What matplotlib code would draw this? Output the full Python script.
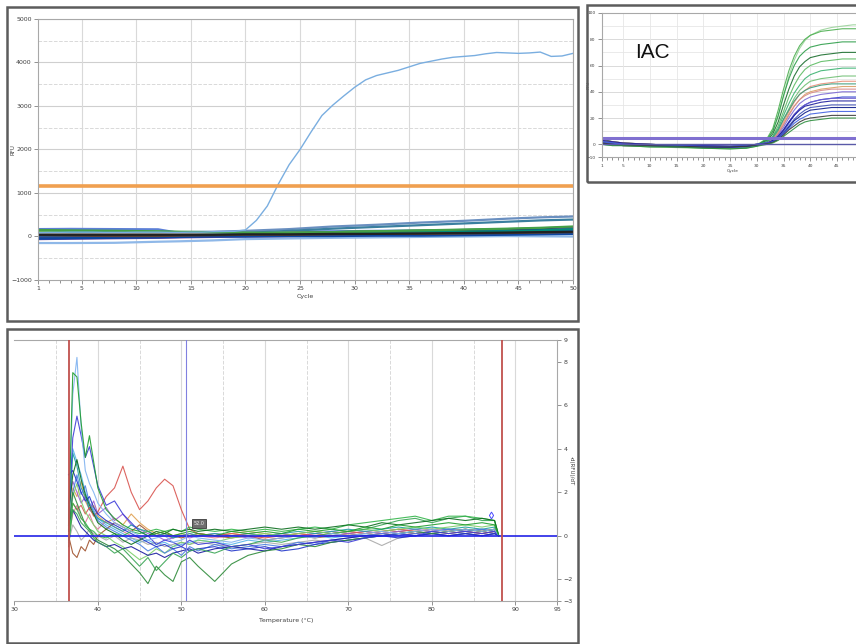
import matplotlib
matplotlib.use("Agg")
import matplotlib.pyplot as plt
from matplotlib.patches import Rectangle
from matplotlib.ticker import MultipleLocator, FixedLocator

W, H = 856, 644

# ---------------- amplification (top left) ----------------
cycles = list(range(1, 51))
positive = [90, 95, 95, 100, 100, 100, 95, 95, 95, 100, 100, 100, 95, 95, 100, 100, 110, 115, 120, 150,
            370, 700, 1200, 1650, 2000, 2400, 2780, 3020, 3230, 3430, 3600, 3700, 3760, 3820, 3900, 3980,
            4030, 4080, 4120, 4140, 4160, 4200, 4230, 4220, 4210, 4220, 4240, 4140, 4150, 4210]
base_cycles = [1, 4, 8, 12, 14, 17, 20, 24, 28, 32, 36, 40, 44, 47, 50]
baseline_curves = {
    '#5b7fd6': [170, 175, 170, 165, 80, 75, 90, 110, 120, 130, 140, 150, 160, 170, 180],
    '#8fb8e8': [-150, -150, -145, -120, -110, -90, -60, -45, -30, -20, -10, 0, 10, 5, 0],
    '#6a8fc0': [130, 125, 120, 110, 100, 110, 130, 170, 230, 270, 320, 360, 410, 440, 460],
    '#3a7f9f': [60, 60, 55, 50, 50, 60, 80, 130, 180, 220, 260, 300, 340, 370, 390],
    '#2e8b3a': [100, 110, 105, 90, 80, 70, 70, 80, 100, 120, 130, 150, 170, 190, 210],
    '#7cc242': [120, 100, 90, 80, 70, 60, 70, 90, 100, 110, 130, 140, 160, 170, 180],
    '#8b1a1a': [-30, -20, -10, 0, 10, 20, 30, 40, 50, 60, 70, 90, 110, 130, 150],
    '#1a237e': [20, 30, 40, 50, 55, 60, 70, 80, 90, 100, 110, 120, 140, 160, 200],
    '#6a3d9a': [-60, -50, -40, -30, -20, -10, 0, 10, 20, 30, 40, 60, 80, 120, 200],
    '#1565c0': [0, 0, 10, 20, 30, 40, 50, 60, 60, 70, 80, 100, 120, 130, 140],
    '#00897b': [80, 90, 100, 90, 80, 70, 60, 70, 80, 90, 100, 110, 120, 140, 170],
    '#b0b0b0': [50, 60, 70, 70, 60, 50, 40, 40, 50, 50, 60, 60, 70, 80, 90],
    '#0d47a1': [-50, -40, -30, -20, -10, 0, 0, 10, 10, 20, 20, 30, 40, 50, 60],
    '#5d4037': [30, 20, 10, 10, 20, 30, 40, 40, 50, 60, 60, 70, 80, 90, 100],
    '#43a047': [150, 140, 130, 120, 110, 100, 90, 80, 100, 120, 140, 160, 180, 200, 230],
    '#222222': [40, 40, 40, 40, 40, 40, 50, 50, 60, 60, 70, 80, 90, 100, 110],
}
threshold_amp = 1170

# ---------------- IAC (top right) ----------------
iac_cycles = [1, 3, 5, 10, 15, 20, 25, 28, 30, 32, 33, 34, 35, 36, 37, 38, 39, 40, 42, 44, 46, 48, 50]
iac_curves = {
    '#9ad39a': [3, 2, 1, 0, -1, -1, -1.5, -1, 0, 4, 10, 21, 37, 52, 64, 73, 79, 83, 87, 89, 90, 91, 91],
    '#4caf50': [2, 1, 0, -1, -1.5, -2, -2.5, -2, -1, 5, 12, 26, 42, 56, 67, 75, 80, 83, 86, 87, 88, 88, 88],
    '#2e9e4a': [1, 0, 0, -1, -2, -2.5, -3, -2.5, -1, 4, 10, 22, 37, 50, 60, 67, 71, 74, 76, 77, 78, 78, 78],
    '#1b6e2e': [4, 2, 1, 0, -1, -2, -2, -1.5, -0.5, 3, 8, 17, 30, 42, 52, 59, 63, 66, 68, 69, 70, 70, 70],
    '#5dbb63': [0, -1, -1, -2, -2.5, -3, -3.5, -3, -1.5, 2, 6, 14, 25, 36, 45, 52, 57, 60, 63, 64, 65, 65, 65],
    '#3cb371': [2, 1, 0, -1, -1, -1.5, -2, -1.5, -0.5, 2, 6, 12, 22, 31, 39, 45, 50, 53, 56, 57, 58, 58, 58],
    '#6fbf73': [1, 0, -1, -1, -2, -2, -2.5, -2, -1, 1, 4, 10, 19, 27, 35, 41, 45, 48, 50, 51, 52, 52, 52],
    '#e8907a': [3, 2, 1, 0, -1, -1, -1.5, -1, 0, 1, 4, 9, 17, 25, 32, 38, 41, 44, 46, 47, 48, 48, 48],
    '#d9a066': [0, 0, -1, -1, -2, -2, -2, -1.5, -0.5, 1, 3, 8, 15, 23, 29, 34, 38, 40, 42, 43, 44, 44, 44],
    '#3a9a7a': [2, 1, 0, -1, -1.5, -2, -2, -1.5, 0, 2, 5, 11, 19, 26, 33, 38, 41, 43, 45, 46, 46, 46, 46],
    '#d88a8a': [1, 0, 0, -1, -1.5, -1.5, -2, -1.5, -0.5, 1, 3, 8, 15, 22, 29, 34, 37, 39, 41, 42, 42, 42, 42],
    '#7d6bd6': [1, 1, 0, -1, -1.5, -2, -2, -1.5, -0.5, 1, 3, 7, 13, 20, 26, 31, 34, 36, 38, 39, 40, 40, 40],
    '#2a3fcf': [2, 1, 0, -1, -1, -1.5, -2, -1.5, -0.5, 0.5, 2, 5, 10, 16, 22, 27, 30, 32, 34, 35, 36, 36, 36],
    '#6a5acd': [2, 1, 0, 0, -1, -1, -1.5, -1, 0, 1, 2.5, 6, 11, 17, 23, 27, 30, 32, 34, 35, 35, 35, 35],
    '#1c1c9c': [3, 2, 1, 0, -1, -1, -1.5, -1, 0, 1, 3, 6, 11, 17, 22, 26, 29, 30, 32, 33, 33, 33, 33],
    '#3f51b5': [1, 0, 0, -1, -1.5, -2, -2.5, -2, -1, 0.5, 2, 5, 9, 14, 19, 23, 26, 28, 29, 30, 30, 30, 30],
    '#0b1a8c': [0, 0, -1, -1, -2, -2, -2, -1.5, -0.5, 0.5, 2, 4, 8, 13, 18, 21, 24, 26, 27, 28, 28, 28, 28],
    '#4161e0': [2, 1, 0, -1, -1, -1.5, -1.5, -1, 0, 1, 2, 4, 8, 12, 16, 19, 21, 23, 24, 25, 25, 25, 25],
    '#3a3a3a': [1, 0, -1, -1, -1.5, -2, -2, -1.5, -0.5, 0.5, 1.5, 3.5, 7, 11, 14, 17, 19, 20, 21, 22, 22, 22, 22],
    '#2f8f3f': [0, -1, -1, -2, -2, -3, -3.5, -3, -1.5, 0, 1, 3, 6, 9, 12, 15, 17, 18, 19, 20, 20, 20, 20],
}
iac_thresholds = [5, 0]

# ---------------- melt curve (bottom) ----------------
melt_t = [36.5, 37, 37.5, 38, 38.5, 39, 39.5, 40, 41, 42, 43, 44, 45, 46, 47, 48, 49, 50, 51, 52,
          54, 56, 58, 60, 62, 64, 66, 68, 70, 72, 74, 76, 78, 80, 82, 84, 86, 87.5, 88]
melt_curves = {
    '#56b4e9': [0.4, 4.0, 3.4, 2.8, 2.0, 1.5, 1.2, 0.8, 0.5, 0.3, 0.1, -0.1, -0.3, -0.2, -0.4, -0.3, -0.5, -0.4, -0.3, -0.2,
                -0.3, -0.4, -0.2, -0.3, -0.2, -0.1, 0.0, -0.1, 0.0, 0.1, 0.0, 0.1, 0.2, 0.1, 0.2, 0.1, 0.2, 0.1, 0.0],
    '#e07a9a': [0.0, 1.0, 1.4, 0.8, 0.6, 1.0, 0.5, 0.3, 0.7, 0.4, 0.2, 0.0, -0.1, 0.0, 0.1, 0.0, -0.1, 0.0, 0.1, 0.0,
                -0.1, 0.0, 0.1, 0.0, 0.1, 0.0, 0.1, 0.0, 0.1, 0.2, 0.1, 0.2, 0.1, 0.2, 0.3, 0.2, 0.1, 0.2, 0.0],
    '#a0522d': [0.0, -0.8, -1.0, -0.5, -0.7, -0.2, -0.4, 0.0, 0.3, 0.6, 0.4, 0.2, 0.5, 0.2, 0.0, 0.1, 0.0, -0.1, 0.0, 0.1,
                0.0, -0.1, 0.0, -0.2, -0.1, 0.0, -0.1, 0.0, 0.1, 0.0, 0.1, 0.2, 0.1, 0.2, 0.1, 0.2, 0.1, 0.2, 0.0],
    '#a9a9a9': [-0.3, 0.5, 0.2, -0.2, 0.0, 0.3, 0.1, 0.0, -0.2, 0.0, -0.3, -0.1, -0.2, -0.4, -0.3, -0.5, -0.4, -0.3, -0.4, -0.3,
                -0.4, -0.5, -0.4, -0.3, -0.4, -0.3, -0.2, -0.3, -0.2, -0.1, -0.45, -0.1, 0.0, 0.1, 0.0, 0.1, 0.0, 0.1, 0.0],
    '#e0a050': [0.2, 2.2, 1.8, 2.5, 1.6, 1.2, 1.4, 0.9, 0.6, 0.8, 0.5, 1.0, 0.6, 0.3, 0.1, 0.2, 0.0, 0.1, 0.0, 0.1,
                0.0, 0.1, 0.2, 0.1, 0.0, 0.1, 0.2, 0.1, 0.2, 0.1, 0.2, 0.3, 0.2, 0.3, 0.2, 0.3, 0.2, 0.3, 0.0],
    '#9a5fd0': [1.5, 2.5, 2.0, 1.5, 1.8, 1.2, 1.6, 1.0, 1.3, 0.7, 1.0, 0.5, 0.3, 0.1, 0.0, -0.2, -0.1, 0.0, -0.1, 0.0,
                0.1, 0.0, -0.1, 0.0, 0.1, 0.0, 0.1, 0.2, 0.1, 0.2, 0.1, 0.2, 0.3, 0.2, 0.3, 0.2, 0.3, 0.2, 0.0],
    '#20a0a0': [0.5, 3.8, 3.2, 2.2, 1.8, 1.2, 1.0, 0.8, 0.6, 0.4, 0.2, 0.5, 0.3, 0.2, 0.0, 0.1, -0.1, 0.0, 0.1, 0.0,
                0.1, 0.0, 0.1, 0.0, 0.1, 0.2, 0.1, 0.2, 0.3, 0.2, 0.3, 0.4, 0.3, 0.4, 0.3, 0.4, 0.3, 0.4, 0.0],
    '#d9544f': [0.3, 1.5, 1.2, 1.4, 1.0, 1.3, 0.9, 1.1, 1.8, 2.2, 3.2, 2.0, 1.2, 1.6, 2.2, 2.6, 2.3, 1.2, 0.3, 0.1,
                0.0, 0.1, 0.0, -0.1, 0.0, 0.1, 0.0, 0.1, 0.2, 0.1, 0.2, 0.3, 0.2, 0.3, 0.2, 0.3, 0.2, 0.3, 0.0],
    '#7ccf6a': [0.0, 1.8, 2.4, 1.6, 1.1, 0.8, 0.5, 0.2, 0.0, -0.3, -0.5, -0.8, -1.1, -0.9, -0.6, -0.8, -0.5, -0.3, -0.4, -0.2,
                -0.3, -0.1, 0.0, 0.1, 0.0, 0.1, 0.2, 0.1, 0.2, 0.3, 0.2, 0.3, 0.4, 0.3, 0.4, 0.5, 0.4, 0.5, 0.0],
    '#4a7fe0': [0.3, 2.0, 2.8, 1.9, 2.3, 1.5, 1.1, 0.7, 0.4, 0.2, 0.0, -0.2, -0.4, -0.7, -0.5, -0.8, -0.6, -0.9, -0.5, -0.7,
                -0.4, -0.6, -0.5, -0.4, -0.5, -0.3, -0.4, -0.2, -0.1, 0.0, 0.1, 0.0, 0.1, 0.2, 0.3, 0.2, 0.3, 0.2, 0.0],
    '#1a1aa0': [0.5, 1.2, 0.8, 0.4, 0.2, 0.0, -0.2, -0.3, -0.5, -0.4, -0.6, -0.5, -0.7, -0.9, -0.8, -1.0, -0.8, -0.7, -0.6, -0.8,
                -0.6, -0.5, -0.6, -0.7, -0.5, -0.4, -0.3, -0.2, -0.1, 0.0, 0.0, 0.1, 0.0, 0.1, 0.0, 0.1, 0.0, 0.1, 0.0],
    '#2236c9': [2.8, 3.0, 2.5, 2.0, 1.6, 1.8, 1.3, 1.0, 0.7, 0.5, 0.3, 0.1, -0.1, -0.3, -0.5, -0.4, -0.6, -0.5, -0.7, -0.6,
                -0.5, -0.7, -0.6, -0.5, -0.7, -0.6, -0.4, -0.3, -0.2, -0.1, 0.0, -0.1, 0.0, 0.1, 0.0, 0.1, 0.0, 0.1, 0.0],
    '#3aa655': [-0.5, 1.2, 1.0, 0.6, 0.4, 0.2, -0.1, -0.3, -0.5, -0.8, -0.6, -1.0, -1.4, -1.0, -1.6, -1.2, -0.8, -1.0, -0.7, -0.6,
                -0.8, -0.5, -0.4, -0.2, -0.3, -0.1, 0.0, 0.1, 0.2, 0.3, 0.5, 0.7, 0.8, 0.6, 0.8, 0.9, 0.7, 0.7, 0.0],
    '#2e8b3a': [0.2, 2.0, 1.5, 1.0, 0.5, 0.3, 0.0, -0.2, -0.4, -0.6, -0.9, -1.3, -1.7, -2.2, -1.4, -1.8, -2.1, -1.2, -1.0, -1.4,
                -2.1, -1.3, -0.9, -0.7, -0.6, -0.4, -0.5, -0.3, -0.2, -0.1, 0.0, 0.1, 0.2, 0.1, 0.2, 0.3, 0.2, 0.3, 0.0],
    '#33b54a': [-0.2, 1.5, 1.2, 0.8, 0.6, 0.3, 0.2, 0.0, -0.1, 0.1, 0.0, 0.2, 0.1, 0.2, 0.3, 0.2, 0.3, 0.2, 0.4, 0.3,
                0.2, 0.3, 0.2, 0.3, 0.2, 0.3, 0.4, 0.3, 0.5, 0.6, 0.7, 0.8, 0.9, 0.7, 0.9, 0.9, 0.8, 0.7, 0.0],
    '#0b6e1e': [1.0, 2.8, 3.5, 2.6, 1.9, 1.4, 1.0, 0.6, 0.3, 0.1, -0.2, -0.4, -0.2, 0.0, 0.2, 0.1, 0.3, 0.2, 0.3, 0.2,
                0.3, 0.2, 0.3, 0.4, 0.3, 0.4, 0.3, 0.4, 0.5, 0.4, 0.6, 0.5, 0.6, 0.7, 0.8, 0.7, 0.8, 0.7, 0.0],
    '#3d3dd8': [0.8, 4.5, 5.5, 4.6, 3.6, 4.1, 3.2, 2.3, 1.4, 1.6, 1.0, 0.6, 0.2, 0.0, -0.4, -0.2, -0.3, -0.5, -0.2, -0.4,
                -0.3, -0.5, -0.4, -0.6, -0.5, -0.4, -0.3, -0.2, -0.3, -0.1, 0.0, 0.1, 0.0, 0.2, 0.1, 0.2, 0.1, 0.2, 0.0],
    '#7fb2f0': [1.0, 6.5, 8.2, 5.0, 3.0, 2.4, 2.0, 1.5, 1.0, 0.6, 0.4, 0.2, 0.0, -0.2, -0.1, 0.0, -0.3, -0.2, 0.0, -0.1,
                -0.2, -0.3, -0.1, -0.2, -0.1, 0.0, -0.1, 0.1, 0.0, 0.1, 0.2, 0.1, 0.2, 0.3, 0.2, 0.3, 0.2, 0.3, 0.0],
    '#1f9e2f': [0.5, 7.5, 7.3, 5.2, 3.6, 4.6, 3.4, 2.2, 1.2, 0.8, 0.5, 0.3, 0.2, 0.0, 0.1, 0.2, 0.0, 0.1, 0.2, 0.1,
                0.0, 0.2, 0.1, 0.2, 0.1, 0.3, 0.2, 0.3, 0.2, 0.4, 0.3, 0.5, 0.4, 0.5, 0.6, 0.5, 0.6, 0.5, 0.0],
}
melt_bars = [36.5, 88.4]
melt_cursor = 50.6
melt_yticks = [-3, -2, 0, 2, 4, 6, 8, 9]

TICK = 4.5
GRID = '#d9d9d9'


def px_rect(x0, y0, x1, y1):
    return [x0 / W, 1 - y1 / H, (x1 - x0) / W, (y1 - y0) / H]


def frame(fig, x0, y0, x1, y1):
    l, b, w, h = px_rect(x0, y0, x1, y1)
    fig.add_artist(Rectangle((l, b), w, h, transform=fig.transFigure, fill=False,
                             ec='#5c5c5c', lw=1.8))


def style(ax):
    for s in ax.spines.values():
        s.set_color('#a8a8a8')
        s.set_linewidth(0.8)
    ax.tick_params(which='both', colors='#808080', labelcolor='#404040', labelsize=TICK,
                   width=0.6, pad=1.5)
    ax.tick_params(which='major', length=3)
    ax.tick_params(which='minor', length=2)


fig = plt.figure(figsize=(W / 100, H / 100), dpi=100)

frame(fig, 7, 7, 578, 321)
frame(fig, 587, 5, 900, 182)
frame(fig, 7, 329, 578, 643)

# ---- amplification ----
ax1 = fig.add_axes(px_rect(38, 19, 573, 280))
style(ax1)
for v in range(-500, 5000, 1000):
    ax1.axhline(v, color=GRID, lw=0.7, ls='--', zorder=0)
for v in range(0, 5001, 1000):
    ax1.axhline(v, color='#cfcfcf', lw=0.8, zorder=0)
for c in range(5, 51, 5):
    ax1.axvline(c, color=GRID, lw=0.8, zorder=0)
for col, vals in baseline_curves.items():
    ax1.plot(base_cycles, vals, color=col, lw=1.6)
ax1.plot(cycles, positive, color='#7aaee0', lw=1.0)
ax1.axhline(threshold_amp, color='#f0a050', lw=2.6)
ax1.set_xlim(1, 50)
ax1.set_ylim(-1000, 5000)
ax1.xaxis.set_major_locator(FixedLocator([1] + list(range(5, 51, 5))))
ax1.xaxis.set_minor_locator(MultipleLocator(1))
ax1.yaxis.set_major_locator(MultipleLocator(1000))
ax1.set_xlabel('Cycle', fontsize=TICK, color='#404040', labelpad=2)
ax1.set_ylabel('RFU', fontsize=4, color='#404040')
ax1.yaxis.set_label_coords(-0.042, 0.5)

# ---- IAC ----
ax2 = fig.add_axes(px_rect(601.6, 13, 863.8, 157.4))
style(ax2)
ax2.tick_params(labelsize=3.2)
for v in range(-10, 101, 10):
    ax2.axhline(v, color='#e6e6e6' if v % 20 else '#d4d4d4', lw=0.6, zorder=0)
for c in range(5, 51, 5):
    ax2.axvline(c, color='#e6e6e6', lw=0.6, zorder=0)
for col, vals in iac_curves.items():
    ax2.plot(iac_cycles, vals, color=col, lw=0.8, alpha=0.9)
ax2.axhline(iac_thresholds[0], color='#8070d0', lw=2.2)
ax2.axhline(iac_thresholds[1], color='#5a5aa8', lw=1.0)
ax2.set_xlim(1, 50)
ax2.set_ylim(-10, 100)
ax2.xaxis.set_major_locator(FixedLocator([1] + list(range(5, 46, 5))))
ax2.xaxis.set_minor_locator(MultipleLocator(1))
ax2.yaxis.set_major_locator(FixedLocator([-10, 0, 20, 40, 60, 80, 100]))
ax2.set_xlabel('Cycle', fontsize=3.2, color='#404040', labelpad=1)
ax2.set_ylabel('RFU', fontsize=3, color='#404040')
ax2.yaxis.set_label_coords(-0.04, 0.5)
ax2.text(7.2, 70, 'IAC', fontsize=15, family='Liberation Sans', va='center', color='#111111')

# ---- melt curve ----
ax3 = fig.add_axes(px_rect(14.3, 340, 557.2, 601))
style(ax3)
ax3.spines['left'].set_visible(False)
for t in range(40, 95, 10):
    ax3.axvline(t, color=GRID, lw=0.8, zorder=0)
for t in range(35, 90, 10):
    ax3.axvline(t, color=GRID, lw=0.7, ls='--', zorder=0)
for col, vals in melt_curves.items():
    ax3.plot(melt_t, vals, color=col, lw=0.8, alpha=0.9)
ax3.axhline(0, color='#2323e6', lw=1.2, zorder=5)
for t in melt_bars:
    ax3.axvline(t, color='#c0504d', lw=1.3, zorder=6)
ax3.axvline(melt_cursor, color='#8080e0', lw=0.8, zorder=6)
ax3.text(52.1, 0.55, '52.0', fontsize=3.5, color='#f0f0f0', ha='center', va='center', zorder=7,
         bbox=dict(boxstyle='square,pad=0.4', fc='#6e6e6e', ec='#3c3c3c', lw=0.6))
ax3.plot([87.1], [0.95], marker='d', mfc='none', mec='#4a4aff', ms=3.5, mew=0.7, zorder=7)
ax3.set_xlim(30, 95)
ax3.set_ylim(-3, 9)
ax3.xaxis.set_major_locator(FixedLocator([30, 40, 50, 60, 70, 80, 90, 95]))
ax3.yaxis.tick_right()
ax3.yaxis.set_label_position('right')
ax3.yaxis.set_major_locator(FixedLocator(melt_yticks))
ax3.set_xlabel('Temperature (\u00b0C)', fontsize=TICK, color='#404040', labelpad=4)
ax3.set_ylabel('-d(RFU)/dT', fontsize=4, color='#404040', rotation=270)
ax3.yaxis.set_label_coords(1.03, 0.5)

fig.savefig('out.png', dpi=100)
